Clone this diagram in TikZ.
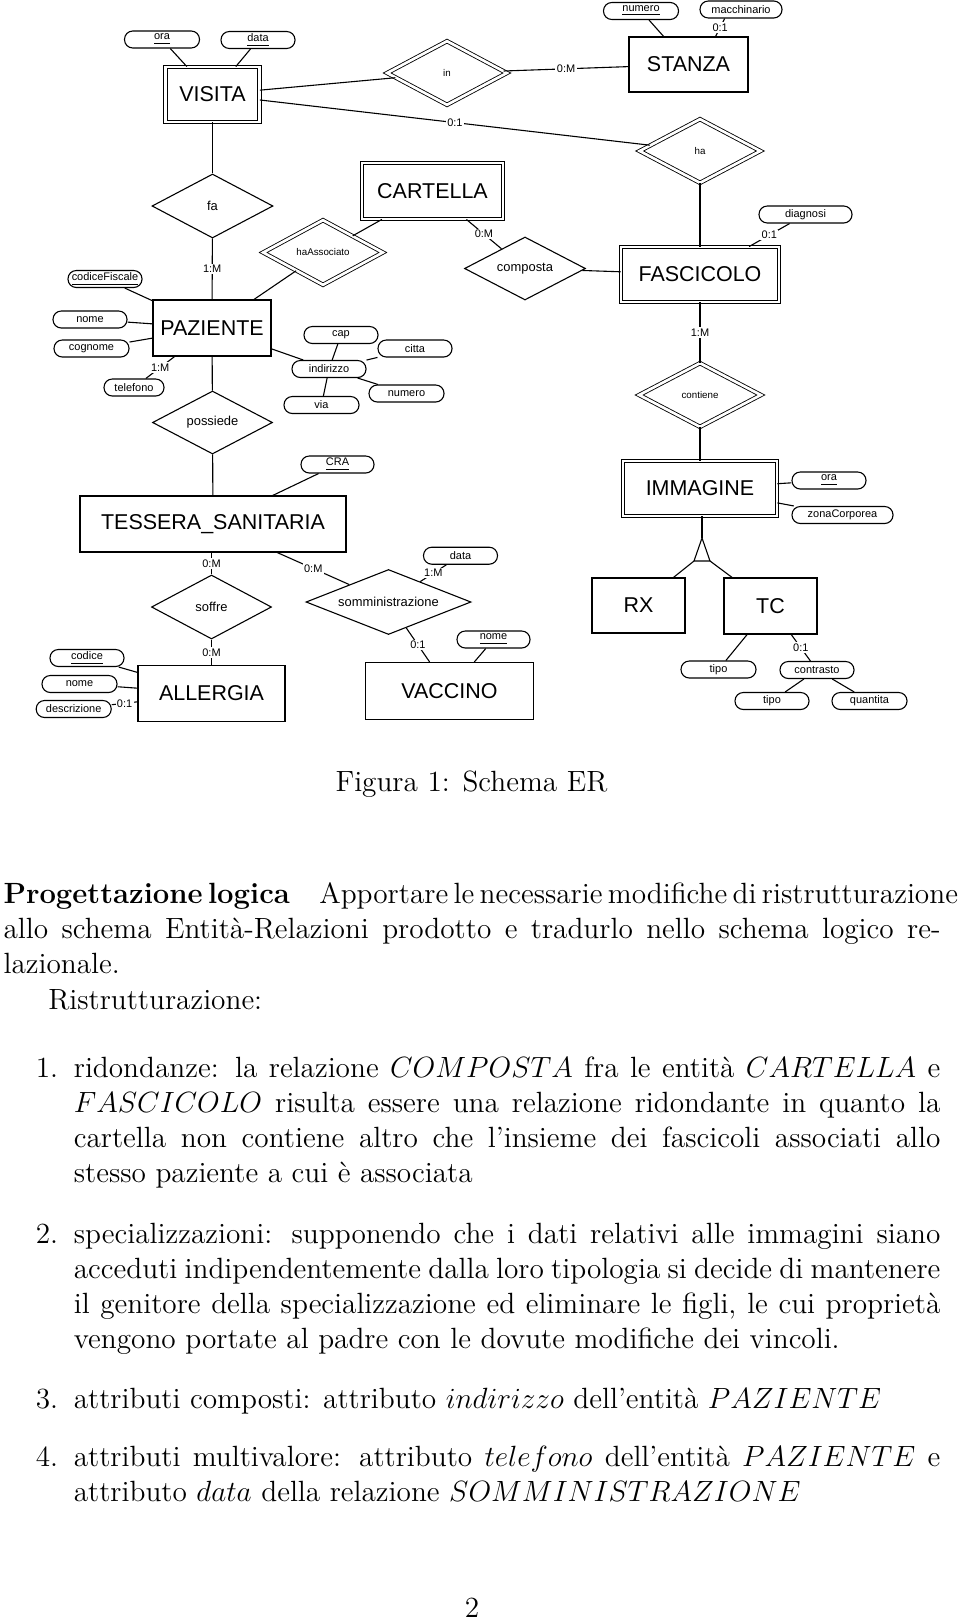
\documentclass[tikz,border=0pt]{standalone}
\usepackage{fontspec}
\usepackage{tikz}
\usetikzlibrary{shapes.geometric}
\newfontfamily\erfont{Liberation Sans}
\newcommand{\pxu}{0.41pt}
\newcommand{\bodyfont}{\fontsize{12}{14.5}\selectfont}
\newcommand{\jline}[1]{\makebox[384.2pt][s]{#1}}
\newcommand{\iline}[1]{\makebox[355.3pt][s]{#1}}

\begin{document}
\begin{tikzpicture}[x=0.41pt, y=-0.41pt, line width=0.45pt,
  entity/.style={draw, inner sep=0pt, font=\erfont\fontsize{8.8}{10}\selectfont},
  wentity/.style={entity, double, line width=0.35pt, double distance=1.1pt},
  rel/.style={draw, diamond, aspect=2.5, inner sep=0pt, font=\erfont\fontsize{5.3}{6}\selectfont},
  wrel/.style={rel, double, line width=0.35pt, double distance=1.1pt, font=\erfont\fontsize{4}{5}\selectfont},
  attr/.style={draw, rounded corners=3.4pt, inner sep=0pt, minimum width=74*\pxu, minimum height=17*\pxu, font=\erfont\fontsize{4.5}{5}\selectfont},
  card/.style={fill=white, inner sep=0.6pt, font=\erfont\fontsize{4.5}{5}\selectfont},
  txt/.style={anchor=base west, inner sep=0pt, font=\bodyfont},
  numlab/.style={anchor=base east, inner sep=0pt, font=\bodyfont}]
\useasboundingbox (0,0) rectangle (960,1623);

\node[wentity, minimum width=94*\pxu, minimum height=55*\pxu] (visita) at (212.5,94.5) {VISITA};
\node[entity, minimum width=119*\pxu, minimum height=55*\pxu] (stanza) at (688.5,64.5) {STANZA};
\node[wentity, minimum width=141*\pxu, minimum height=56*\pxu] (cartella) at (432.5,191) {CARTELLA};
\node[wentity, minimum width=158*\pxu, minimum height=55*\pxu] (fascicolo) at (700,274.5) {FASCICOLO};
\node[entity, minimum width=118*\pxu, minimum height=56*\pxu] (paziente) at (212,328) {PAZIENTE};
\node[entity, minimum width=266*\pxu, minimum height=56*\pxu] (tessera) at (213,524) {TESSERA\_SANITARIA};
\node[wentity, minimum width=154*\pxu, minimum height=55*\pxu] (immagine) at (700,488.5) {IMMAGINE};
\node[entity, minimum width=147*\pxu, minimum height=56*\pxu] (allergia) at (211.5,693.5) {ALLERGIA};
\node[entity, minimum width=168*\pxu, minimum height=57*\pxu] (vaccino) at (449.5,691) {VACCINO};
\node[entity, minimum width=93*\pxu, minimum height=55*\pxu] (rx) at (638.5,605.5) {RX};
\node[entity, minimum width=93*\pxu, minimum height=56*\pxu] (tc) at (770.5,606) {TC};

\node[wrel, minimum width=120*\pxu, minimum height=64*\pxu] (relin) at (447,73) {in};
\node[wrel, minimum width=121*\pxu, minimum height=64*\pxu] (relha) at (700,151) {ha};
\node[wrel, minimum width=120*\pxu, minimum height=65*\pxu] (hassoc) at (323,252.5) {haAssociato};
\node[wrel, minimum width=122*\pxu, minimum height=64*\pxu] (contiene) at (700,395) {contiene};
\node[rel, minimum width=121*\pxu, minimum height=64*\pxu] (fa) at (212.5,206) {fa};
\node[rel, minimum width=121*\pxu, minimum height=63*\pxu] (composta) at (525,268.5) {composta};
\node[rel, minimum width=120*\pxu, minimum height=63*\pxu] (possiede) at (212.5,422.5) {possiede};
\node[rel, minimum width=120*\pxu, minimum height=64*\pxu] (soffre) at (211.5,607) {soffre};
\node[rel, minimum width=165*\pxu, minimum height=65*\pxu] (somm) at (388.5,602) {somministrazione};

\node[attr, minimum width=75*\pxu] (vora) at (162,39.5) {\underline{ora}};
\node[attr] (vdata) at (258,40) {\underline{data}};
\node[attr, minimum width=75*\pxu] (snumero) at (641,11) {\underline{numero}};
\node[attr, minimum width=82*\pxu] (smacch) at (741,9.5) {macchinario};
\node[attr, minimum width=93*\pxu] (fdiagnosi) at (805.5,214.5) {diagnosi};
\node[attr] (pcodfis) at (105,279) {\underline{codiceFiscale}};
\node[attr] (pnome) at (90,319.5) {nome};
\node[attr, minimum width=75*\pxu] (pcognome) at (91.5,348.5) {cognome};
\node[attr, minimum width=60*\pxu] (ptelefono) at (134,387.5) {telefono};
\node[attr] (pindirizzo) at (329,369) {indirizzo};
\node[attr] (icap) at (341,335) {cap};
\node[attr] (icitta) at (415,348.5) {citta};
\node[attr, minimum width=75*\pxu] (inumero) at (406.5,393.5) {numero};
\node[attr, minimum width=75*\pxu] (ivia) at (321.5,405) {via};
\node[attr, minimum width=73*\pxu] (tcra) at (337.5,464.5) {\underline{CRA}};
\node[attr] (acodice) at (87,658) {\underline{codice}};
\node[attr, minimum width=75*\pxu] (anome) at (79.5,684) {nome};
\node[attr, minimum width=75*\pxu] (adescr) at (73.7,709) {descrizione};
\node[attr] (sdata) at (460.5,555.7) {data};
\node[attr, minimum width=73*\pxu] (vnome) at (493.5,639.5) {\underline{nome}};
\node[attr] (iora) at (829,480.5) {\underline{ora}};
\node[attr, minimum width=101*\pxu] (izona) at (842.5,515) {zonaCorporea};
\node[attr, minimum width=75*\pxu] (ttipo) at (718.5,669.5) {tipo};
\node[attr] (tcontrasto) at (817,670) {contrasto};
\node[attr] (ctipo) at (772,701) {tipo};
\node[attr, minimum width=75*\pxu] (cquantita) at (869.5,701) {quantita};

\coordinate (isatop) at (702,538);
\coordinate (isaleft) at (694,561);
\coordinate (isaright) at (710,561);

\draw (vora) -- (visita);
\draw (vdata) -- (visita);
\draw (visita) -- (relin);
\draw (visita) -- node[card]{0:1} (relha);
\draw (relin) -- node[card]{0:M} (stanza);
\draw (snumero) -- (stanza);
\draw (smacch.209.5) -- node[card]{0:1} (stanza.46);
\draw (relha) -- (fascicolo);
\draw (fdiagnosi) -- node[card]{0:1} (fascicolo);
\draw (cartella) -- (hassoc);
\draw (cartella) -- node[card]{0:M} (composta);
\draw (composta) -- (fascicolo);

\draw (visita) -- (fa);
\draw (fa) -- node[card]{1:M} (paziente);
\draw (hassoc) -- (paziente);
\draw (pcodfis) -- (paziente);
\draw (pnome) -- (paziente);
\draw (pcognome) -- (paziente);
\draw (ptelefono) -- node[card]{1:M} (paziente);
\draw (paziente) -- (pindirizzo);
\draw (pindirizzo) -- (icap);
\draw (pindirizzo) -- (icitta);
\draw (pindirizzo) -- (inumero);
\draw (pindirizzo) -- (ivia);
\draw (paziente) -- (possiede);
\draw (possiede) -- (tessera);
\draw (tcra) -- (tessera);

\draw (tessera.south -| soffre.north) -- node[card]{0:M} (soffre);
\draw (soffre) -- node[card]{0:M} (allergia);
\draw (tessera) -- node[card]{0:M} (somm);
\draw (sdata) -- node[card]{1:M} (somm);
\draw (somm) -- node[card]{0:1} (vaccino);
\draw (vnome) -- (vaccino);
\draw (acodice) -- (allergia);
\draw (anome) -- (allergia);
\draw (adescr) -- node[card]{0:1} (allergia);

\draw (fascicolo) -- node[card]{1:M} (contiene);
\draw (contiene) -- (immagine);
\draw (immagine) -- (iora);
\draw (immagine) -- (izona);
\draw (isatop) -- (isaleft) -- (isaright) -- cycle;
\draw (immagine.south -| isatop) -- (isatop);
\draw (isaleft) -- (rx);
\draw (isaright) -- (tc);
\draw (tc) -- (ttipo);
\draw (tc) -- node[card]{0:1} (tcontrasto);
\draw (tcontrasto) -- (ctipo);
\draw (tcontrasto) -- (cquantita);

\node[anchor=base, inner sep=0pt, font=\bodyfont] (caption) at (471.5,791.7) {Figura 1: Schema ER};

\node[txt] (par1) at (3,903.5) {\makebox[390.5pt][s]{\spaceskip=0.3333em plus 0.2em minus 0.15em\textbf{Progettazione logica}\hspace{1em}Apportare le necessarie modifiche di ristrutturazione}};
\node[txt] (par2) at (3,938.7) {\jline{allo schema Entità-Relazioni prodotto e tradurlo nello schema logico re-}};
\node[txt] (par3) at (3,973.9) {lazionale.};
\node[txt] (par4) at (47.7,1009.1) {Ristrutturazione:};

\node[numlab] (num1) at (58.7,1077) {1.};
\node[txt] (it1a) at (73.3,1077) {\iline{ridondanze: la relazione $COMPOSTA$ fra le entità $CARTELLA$ e}};
\node[txt] (it1b) at (73.3,1112.2) {\iline{$FASCICOLO$ risulta essere una relazione ridondante in quanto la}};
\node[txt] (it1c) at (73.3,1147.4) {\iline{cartella non contiene altro che l’insieme dei fascicoli associati allo}};
\node[txt] (it1d) at (73.3,1182.7) {stesso paziente a cui è associata};

\node[numlab] (num2) at (58.7,1243.3) {2.};
\node[txt] (it2a) at (73.3,1243.3) {\iline{specializzazioni: supponendo che i dati relativi alle immagini siano}};
\node[txt] (it2b) at (73.3,1278.3) {\iline{acceduti indipendentemente dalla loro tipologia si decide di mantenere}};
\node[txt] (it2c) at (73.3,1313.5) {\iline{il genitore della specializzazione ed eliminare le figli, le cui proprietà}};
\node[txt] (it2d) at (73.3,1348.3) {vengono portate al padre con le dovute modifiche dei vincoli.};

\node[numlab] (num3) at (58.7,1408.3) {3.};
\node[txt] (it3a) at (73.3,1408.3) {attributi composti: attributo $indirizzo$ dell’entità $PAZIENTE$};

\node[numlab] (num4) at (58.7,1466.7) {4.};
\node[txt] (it4a) at (73.3,1466.7) {\iline{attributi multivalore: attributo $telefono$ dell’entità $PAZIENTE$ e}};
\node[txt] (it4b) at (73.3,1501.7) {attributo $data$ della relazione $SOMMINISTRAZIONE$};

\node[anchor=base, inner sep=0pt, font=\bodyfont] (pagenum) at (472,1617) {2};
\end{tikzpicture}
\end{document}
